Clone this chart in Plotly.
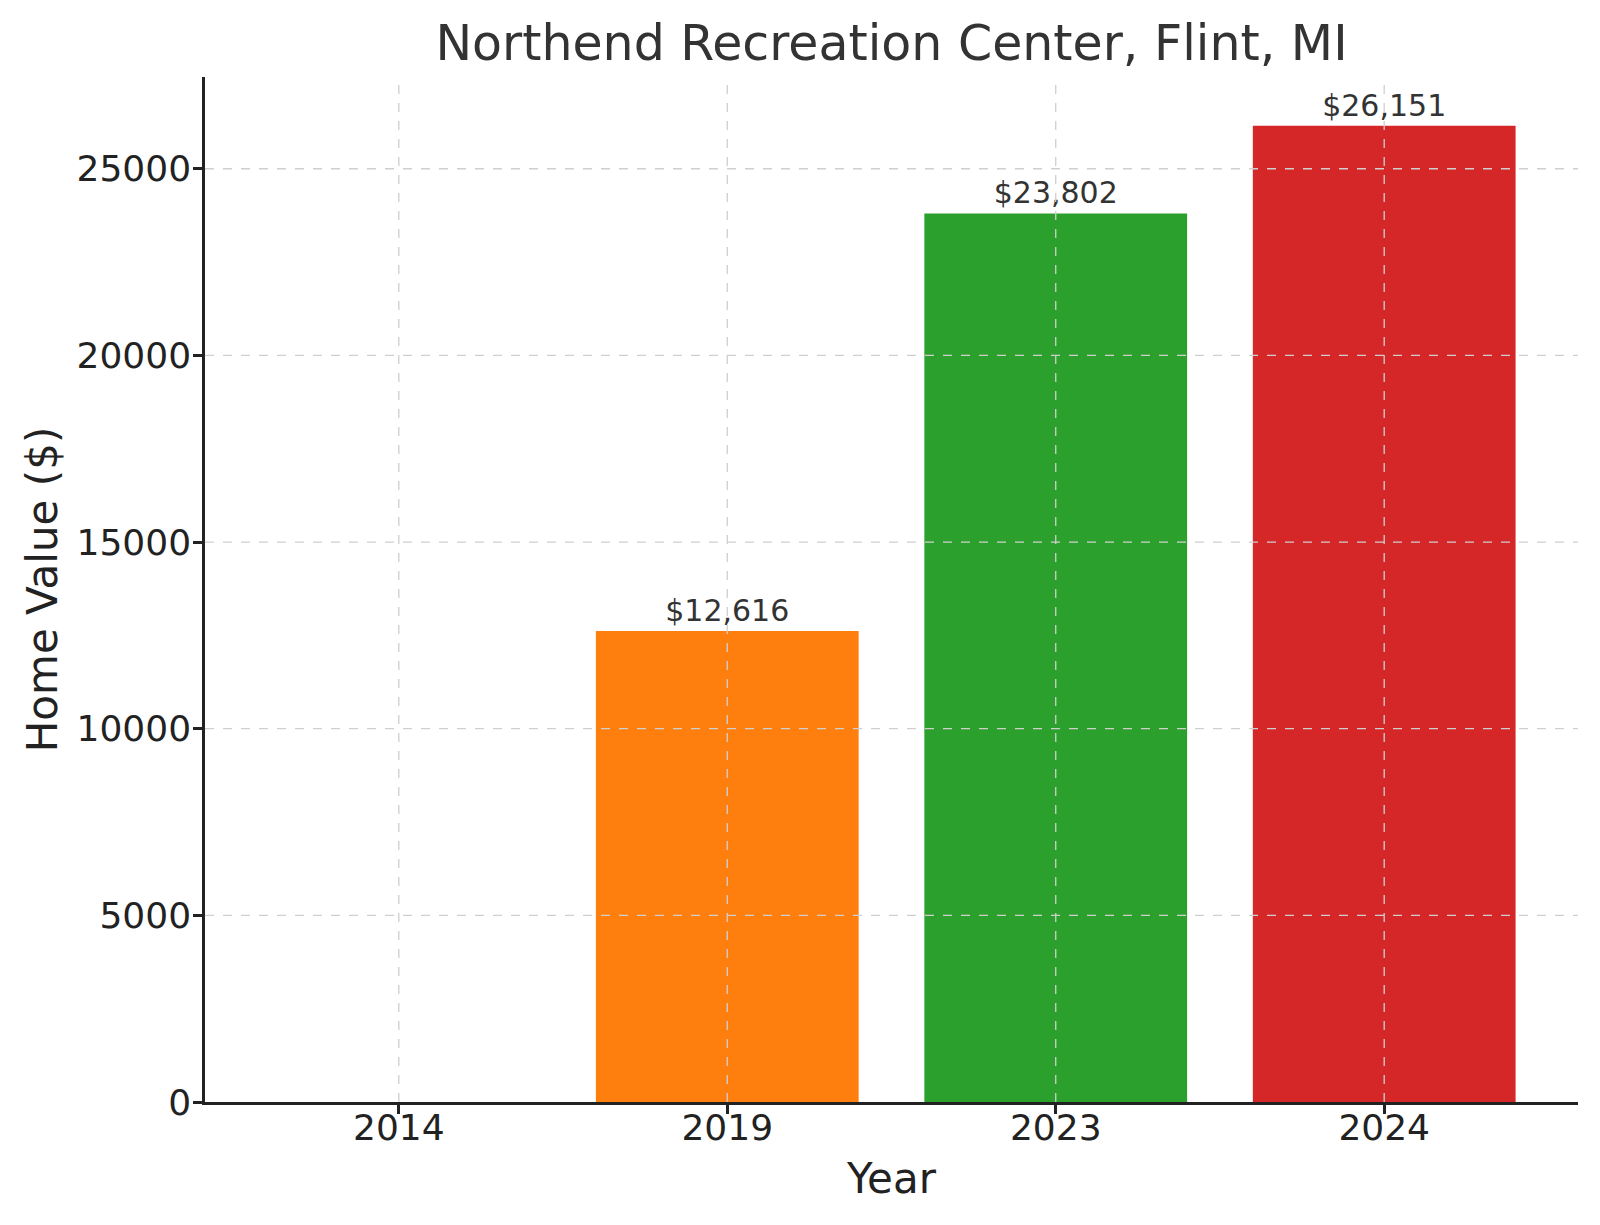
import plotly.graph_objects as go

years = ["2014", "2019", "2023", "2024"]
home_values = [None, 12616, 23802, 26151]
bar_colors = ["#1f77b4", "#ff7f0e", "#2ca02c", "#d62728"]
y_ticks = [0, 5000, 10000, 15000, 20000, 25000]

bar_labels = ["" if v is None else f"${v:,}" for v in home_values]

fig = go.Figure()
fig.add_trace(go.Bar(
    x=years, y=home_values, marker_color=bar_colors, marker_line_width=0,
    width=0.8, text=bar_labels, textposition="outside", cliponaxis=False,
    textfont=dict(size=30, color="#333333", family="DejaVu Sans"),
))

# gridlines drawn above the bars, like the original
grid = dict(color="#cfcfcf", width=1.3, dash="dash")
for t in y_ticks[1:]:
    fig.add_shape(type="line", xref="paper", yref="y", x0=0, x1=1, y0=t, y1=t,
                  line=grid, layer="above")
for i in range(len(years)):
    fig.add_shape(type="line", xref="x", yref="paper", x0=i, x1=i, y0=0, y1=1,
                  line=grid, layer="above")

axis_font = dict(size=36, color="#222222", family="DejaVu Sans")
fig.update_xaxes(
    type="category", range=[-0.59, 3.59], showgrid=False,
    showline=True, linecolor="#222222", linewidth=2.5,
    ticks="outside", ticklen=9, tickwidth=2.5, tickcolor="#222222",
    tickfont=axis_font, ticklabelstandoff=-17,
    title=dict(text="Year", font=dict(size=42, color="#222222", family="DejaVu Sans"), standoff=17),
)
fig.update_yaxes(
    range=[0, 27458], tickvals=y_ticks, tickformat="d", showgrid=False, zeroline=False,
    showline=True, linecolor="#222222", linewidth=2.5,
    ticks="outside", ticklen=9, tickwidth=2.5, tickcolor="#222222",
    tickfont=axis_font, ticklabelstandoff=-5,
    title=dict(text="Home Value ($)", font=dict(size=42, color="#222222", family="DejaVu Sans"), standoff=6),
)
fig.update_layout(
    width=1600, height=1225, showlegend=False,
    plot_bgcolor="white", paper_bgcolor="white",
    margin=dict(l=205, r=22, t=77, b=123, autoexpand=False),
    title=dict(text="Northend Recreation Center, Flint, MI", x=0.5, xref="paper",
               y=0.965, yanchor="middle",
               font=dict(size=49, color="#333333", family="DejaVu Sans")),
    font=dict(family="DejaVu Sans"),
)
fig.write_html("out.html", config={"displayModeBar": False},
               post_script="document.body.style.margin='0';")
